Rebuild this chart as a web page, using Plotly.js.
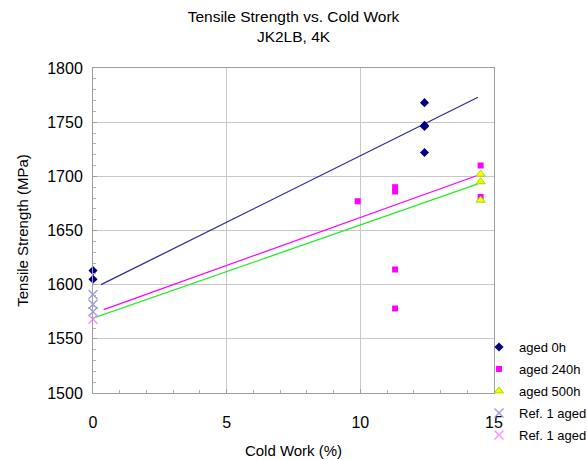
<!DOCTYPE html>
<html><head><meta charset="utf-8">
<script src="https://cdn.plot.ly/plotly-3.0.1.min.js"></script>
<style>html,body{margin:0;padding:0;background:#fff}#chart{width:587px;height:460px}</style>
</head><body><div id="chart"></div>
<script>
const aged0X = [0, 0, 12.4, 12.4, 12.4, 12.4];
const aged0Y = [1613, 1605, 1768, 1747, 1746, 1722];
const aged240X = [9.9, 11.3, 11.3, 11.3, 11.3, 14.5, 14.5];
const aged240Y = [1677, 1690, 1686, 1614, 1578, 1710, 1681];
const aged500X = [14.5, 14.5, 14.5];
const aged500Y = [1702, 1695, 1678];
const ref1aX = [0, 0, 0];
const ref1aY = [1591, 1582, 1575];
const ref1bX = [0];
const ref1bY = [1568];
const trend0X = [0.3, 14.4], trend0Y = [1600, 1773];
const trend240X = [0.4, 14.4], trend240Y = [1577, 1701];
const trend500X = [0, 14.4], trend500Y = [1569, 1693];
const xTicks = [0, 5, 10, 15];
const yTicks = [1500, 1550, 1600, 1650, 1700, 1750, 1800];
const seriesNames = ['aged 0h', 'aged 240h', 'aged 500h', 'Ref. 1 aged', 'Ref. 1 aged'];

const F = 'Arial, "Liberation Sans", sans-serif';
const traces = [
  {x: trend0X, y: trend0Y, mode: 'lines', line: {color: '#2e2e98', width: 1.3}, showlegend: false, hoverinfo: 'skip'},
  {x: trend240X, y: trend240Y, mode: 'lines', line: {color: '#ff00ff', width: 1.3}, showlegend: false, hoverinfo: 'skip'},
  {x: trend500X, y: trend500Y, mode: 'lines', line: {color: '#22ee22', width: 1.3}, showlegend: false, hoverinfo: 'skip'},
  {x: aged0X, y: aged0Y, mode: 'markers', name: seriesNames[0], legend: 'legend', cliponaxis: false, marker: {symbol: 'diamond', size: 7, color: '#000080'}},
  {x: aged240X, y: aged240Y, mode: 'markers', name: seriesNames[1], legend: 'legend2', cliponaxis: false, marker: {symbol: 'square', size: 6, color: '#ff00ff'}},
  {x: aged500X, y: aged500Y, mode: 'markers', name: seriesNames[2], legend: 'legend3', cliponaxis: false, marker: {symbol: 'triangle-up', size: 8, color: '#ffff00', line: {color: '#99dd00', width: 1}}},
  {x: ref1aX, y: ref1aY, mode: 'markers', name: seriesNames[3], legend: 'legend4', cliponaxis: false, marker: {symbol: 'x-thin', size: 9, line: {color: '#9a9ae0', width: 1.3}}},
  {x: ref1bX, y: ref1bY, mode: 'markers', name: seriesNames[4], legend: 'legend5', cliponaxis: false, marker: {symbol: 'x-thin', size: 9, line: {color: '#ff88ff', width: 1.3}}}
];
function leg(yc) {
  return {xref: 'container', yref: 'container', x: 479 / 587, xanchor: 'left', y: 1 - yc / 460, yanchor: 'middle',
    font: {size: 13}, bgcolor: 'rgba(0,0,0,0)', itemwidth: 30, borderwidth: 0};
}
const layout = {
  width: 587, height: 460,
  margin: {l: 93, r: 93, t: 68, b: 67, autoexpand: false},
  paper_bgcolor: '#fff', plot_bgcolor: '#fff',
  font: {family: F, color: '#000', size: 14},
  title: {text: 'Tensile Strength vs. Cold Work<br>JK2LB, 4K', x: 0.5, xanchor: 'center', xref: 'paper', yref: 'container', y: 0.953, yanchor: 'middle', font: {family: F, size: 15.5, color: '#000'}},
  xaxis: {range: [0, 15], tickvals: xTicks, ticktext: xTicks.map(String), showgrid: true, gridcolor: '#c8c8c8', gridwidth: 1,
    showline: true, linecolor: '#a0a0a0', mirror: true, zeroline: false,
    ticks: 'inside', ticklen: 4, tickcolor: '#a0a0a0', ticklabelstandoff: 15,
    minor: {dtick: 1, ticks: 'inside', ticklen: 3, tickcolor: '#b0b0b0', showgrid: false},
    tickfont: {size: 16}, title: {text: 'Cold Work (%)', font: {size: 15}, standoff: 15}},
  yaxis: {range: [1500, 1800], tickvals: yTicks, ticktext: yTicks.map(String), showgrid: true, gridcolor: '#c8c8c8', gridwidth: 1,
    showline: true, linecolor: '#a0a0a0', mirror: true, zeroline: false,
    ticks: 'inside', ticklen: 4, tickcolor: '#a0a0a0', ticklabelstandoff: 6,
    minor: {dtick: 10, ticks: 'inside', ticklen: 3, tickcolor: '#b0b0b0', showgrid: false},
    tickfont: {size: 16}, title: {text: 'Tensile Strength (MPa)', font: {size: 15}, standoff: 14}},
  legend: leg(347), legend2: leg(369), legend3: leg(391), legend4: leg(413), legend5: leg(435),
  showlegend: true
};
Plotly.newPlot('chart', traces, layout, {displayModeBar: false, staticPlot: true});
</script></body></html>
